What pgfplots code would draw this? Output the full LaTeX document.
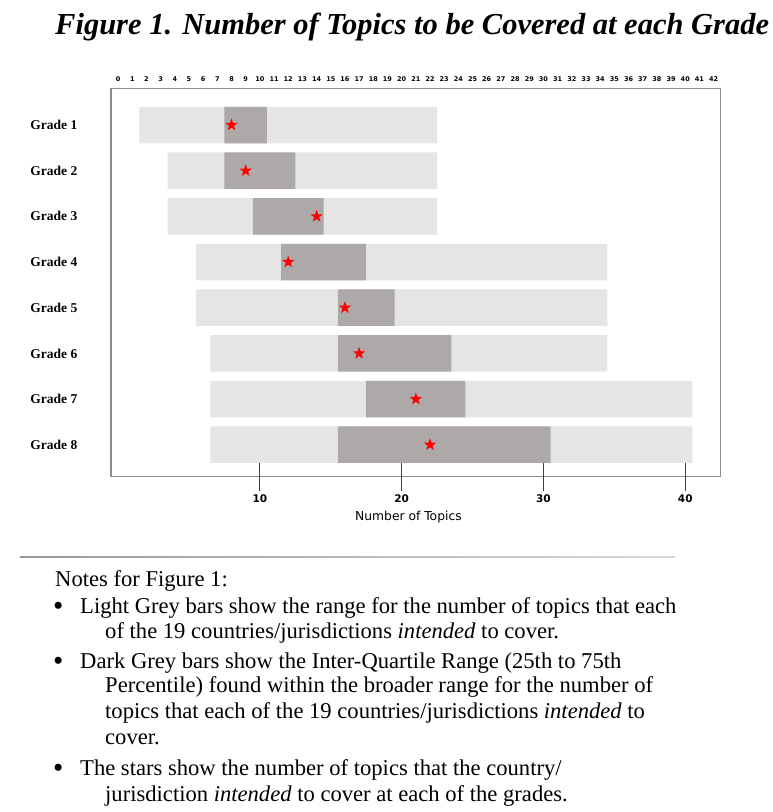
\documentclass[border=0pt]{standalone}
\usepackage{pgfplots}
\pgfplotsset{compat=1.18}
\usepackage{pgfplotstable}
\usepackage{fontspec}
\setmainfont{Liberation Serif}
\newfontfamily\dejavu{DejaVu Sans}
\definecolor{lightbar}{HTML}{E5E5E5}
\definecolor{darkbar}{HTML}{ADA9A8}
\definecolor{frame}{HTML}{8C8C8C}
\pgfdeclareplotmark{fstar}{%
  \pgfpathmoveto{\pgfpointpolar{90}{\pgfplotmarksize}}%
  \pgfpathlineto{\pgfpointpolar{126}{0.40\pgfplotmarksize}}%
  \pgfpathlineto{\pgfpointpolar{162}{\pgfplotmarksize}}%
  \pgfpathlineto{\pgfpointpolar{198}{0.40\pgfplotmarksize}}%
  \pgfpathlineto{\pgfpointpolar{234}{\pgfplotmarksize}}%
  \pgfpathlineto{\pgfpointpolar{270}{0.40\pgfplotmarksize}}%
  \pgfpathlineto{\pgfpointpolar{306}{\pgfplotmarksize}}%
  \pgfpathlineto{\pgfpointpolar{342}{0.40\pgfplotmarksize}}%
  \pgfpathlineto{\pgfpointpolar{18}{\pgfplotmarksize}}%
  \pgfpathlineto{\pgfpointpolar{54}{0.40\pgfplotmarksize}}%
  \pgfpathclose\pgfusepathqfill}

\pgfplotstableread{
g lmin lmax qlo qhi star
1 1.5 22.5 7.5 10.5 8
2 3.5 22.5 7.5 12.5 9
3 3.5 22.5 9.5 14.5 14
4 5.5 34.5 11.5 17.5 12
5 5.5 34.5 15.5 19.5 16
6 6.5 34.5 15.5 23.5 17
7 6.5 40.5 17.5 24.5 21
8 6.5 40.5 15.5 30.5 22
}\gradedata

\newcommand{\bul}{\raisebox{-1.6pt}{\scalebox{1.3}{\textbullet}}}

\begin{document}
\begin{tikzpicture}
\path[use as bounding box] (0pt,0pt) rectangle (772pt,812pt);
% title
\node[anchor=base west, inner sep=0pt] at (55pt,777pt)
  {\fontsize{30.5}{30.5}\selectfont\bfseries\itshape Figure 1. Number of Topics to be Covered at each Grade};

% top tick labels axis
\begin{axis}[
  at={(111pt,335.3pt)}, anchor=south west, scale only axis,
  width=609.7pt, height=388pt,
  xmin=-0.5, xmax=42.5, ymin=0, ymax=1,
  axis line style={draw=none},
  ytick=\empty,
  xtick={0,...,42},
  xticklabel pos=right,
  major tick length=0pt,
  /pgf/number format/assume math mode=true,
  xticklabel style={font=\dejavu\bfseries\fontsize{6.5}{6.5}\selectfont, inner sep=0pt, anchor=south, yshift=6.5pt},
]
\end{axis}

\begin{axis}[
  at={(111pt,335.3pt)}, anchor=south west, scale only axis,
  width=609.7pt, height=388pt,
  xmin=-0.5, xmax=42.5, ymin=0.205, ymax=8.70,
  y dir=reverse,
  axis line style={draw=frame, line width=1.3pt},
  xtick={10,20,30,40},
  xtick pos=left,
  tick align=outside,
  major tick length=14.5pt,
  xtick style={draw=black!75, line width=0.8pt},
  extra x ticks={10,20,30,40},
  extra x tick labels={},
  extra x tick style={tick align=inside, major tick length=14pt, xtick style={draw=black!75, line width=0.8pt}},
  ytick={1,...,8},
  yticklabels={Grade 1,Grade 2,Grade 3,Grade 4,Grade 5,Grade 6,Grade 7,Grade 8},
  ytick style={draw=none},
  yticklabel style={font=\fontsize{13.5}{13.5}\selectfont\bfseries, anchor=east, inner sep=0pt, xshift=-19pt},
  /pgf/number format/assume math mode=true,
  xticklabel style={font=\dejavu\bfseries\fontsize{10.5}{10.5}\selectfont, anchor=center, inner sep=0pt, yshift=-7pt},
  xlabel={Number of Topics},
  xlabel style={font=\dejavu\fontsize{12.3}{12.3}\selectfont, at={(axis description cs:0.5,0)}, anchor=center, yshift=-40.3pt, xshift=-7.4pt},
]
\addplot[xbar, stack plots=x, bar width=36.5pt, bar shift=0pt, draw=none, fill=none, forget plot]
  table[x=lmin, y=g] {\gradedata};
\addplot[xbar, stack plots=x, bar width=36.5pt, bar shift=0pt, draw=none, fill=lightbar, forget plot]
  table[x expr=\thisrow{lmax}-\thisrow{lmin}, y=g] {\gradedata};
\addplot[xbar, stack plots=x, bar width=36.5pt, bar shift=0pt, draw=none, fill=none, forget plot]
  table[x expr=\thisrow{qlo}-\thisrow{lmax}, y=g] {\gradedata};
\addplot[xbar, stack plots=x, bar width=36.5pt, bar shift=0pt, draw=none, fill=darkbar, forget plot]
  table[x expr=\thisrow{qhi}-\thisrow{qlo}, y=g] {\gradedata};
\addplot[only marks, stack plots=false, mark=fstar, mark size=6.5pt, color=red]
  table[x=star, y=g] {\gradedata};
\end{axis}

% separator
\shade[left color=black!40, right color=black!15] (20pt,254.2pt) rectangle (675pt,255.8pt);

% notes
\begin{scope}[every node/.style={anchor=base west, inner sep=0pt, font=\fontsize{22.6}{22.6}\selectfont}]
\node at (55pt,225pt) {Notes for Figure 1:};
\node at (53pt,198pt) {\bul};
\node at (80pt,198pt) {Light Grey bars show the range for the number of topics that each};
\node at (105pt,173pt) {of the 19 countries/jurisdictions \textit{intended} to cover.};
\node at (53pt,143pt) {\bul};
\node at (80pt,143pt) {Dark Grey bars show the Inter-Quartile Range (25th to 75th};
\node at (105pt,119pt) {Percentile) found within the broader range for the number of};
\node at (105pt,93pt) {topics that each of the 19 countries/jurisdictions \textit{intended} to};
\node at (105pt,67pt) {cover.};
\node at (53pt,36pt) {\bul};
\node at (80pt,36pt) {The stars show the number of topics that the country/};
\node at (105pt,10pt) {jurisdiction \textit{intended} to cover at each of the grades.};
\end{scope}
\end{tikzpicture}
\end{document}
